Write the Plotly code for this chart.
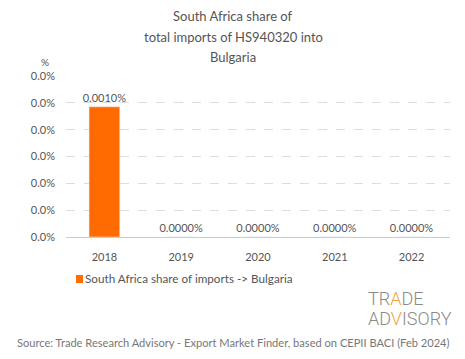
import plotly.graph_objects as go

years = ["2018", "2019", "2020", "2021", "2022"]
share_pct = [0.00097, 0.0, 0.0, 0.0, 0.0]
bar_labels = ["0.0010%", "0.0000%", "0.0000%", "0.0000%", "0.0000%"]
tick_vals = [0, 0.0002, 0.0004, 0.0006, 0.0008, 0.0010, 0.0012]
tick_text = ["0.0%"] * 7
series_name = "South Africa share of imports -> Bulgaria"
title_lines = ["South Africa share of", "total imports of HS940320 into", "Bulgaria"]
source_text = "Source: Trade Research Advisory - Export Market Finder, based on CEPII BACI (Feb 2024)"

FONT = "Lato"
GREY = "#555555"
BAR_COLOR = "#FF6B00"
LOGO_GREY = "#8a8a8a"
LOGO_ORANGE = "#F2A33A"

# plot area in page pixels: x 66..450, y 76..237 (figure sits at an 8px body offset)
def py(p):
    return (237 - p) / 161.0

def px(p):
    return (p - 66) / 384.0

fig = go.Figure()
fig.add_trace(go.Bar(
    x=years, y=share_pct, name=series_name, showlegend=False,
    marker_color=BAR_COLOR, text=bar_labels, textposition="outside",
    constraintext="none",
    textfont=dict(size=11, color=GREY, family=FONT), cliponaxis=False,
))
fig.update_layout(
    width=449, height=343,
    margin=dict(l=58, r=7, t=68, b=114, autoexpand=False),
    paper_bgcolor="white", plot_bgcolor="white",
    font=dict(family=FONT, size=11, color=GREY),
    bargap=0.6,
    xaxis=dict(showline=True, linecolor="#cccccc", ticks="", ticklabelstandoff=10,
               tickfont=dict(size=11, color=GREY)),
    yaxis=dict(range=[0, 0.0012], tickvals=tick_vals, ticktext=tick_text,
               showgrid=True, gridcolor="#dddddd", griddash="dash", zeroline=False,
               ticklabelstandoff=10, tickfont=dict(size=11, color=GREY)),
)
for line, yy in zip(title_lines, [16, 37, 57]):
    fig.add_annotation(text=line, xref="paper", yref="paper", x=px(233), y=py(yy),
                       xanchor="center", yanchor="middle", showarrow=False,
                       font=dict(size=13, color=GREY, family=FONT))
fig.add_annotation(text="%", xref="paper", yref="paper", x=px(45), y=py(62),
                   xanchor="center", yanchor="middle",
                   showarrow=False, font=dict(size=10, color=GREY, family=FONT))
# legend
fig.add_shape(type="rect", xref="paper", yref="paper",
              x0=px(76), x1=px(83), y0=py(283), y1=py(275),
              fillcolor=BAR_COLOR, line=dict(width=0))
fig.add_annotation(text=series_name.replace(">", "&gt;"), xref="paper", yref="paper",
                   x=px(83), y=py(278), xanchor="left", yanchor="middle", showarrow=False,
                   font=dict(size=11.7, color=GREY, family=FONT))
# logo
fig.add_annotation(text="TR<span style='color:%s'>A</span>DE" % LOGO_ORANGE,
                   xref="paper", yref="paper", x=px(366), y=py(298),
                   xanchor="left", yanchor="middle", showarrow=False,
                   font=dict(size=18, color=LOGO_GREY, family="Roboto", weight=300))
fig.add_annotation(text="AD<span style='color:%s'>V</span>ISORY" % LOGO_ORANGE,
                   xref="paper", yref="paper", x=px(366), y=py(318),
                   xanchor="left", yanchor="middle", showarrow=False,
                   font=dict(size=18, color=LOGO_GREY, family="Roboto", weight=300))
fig.add_annotation(text=source_text,
                   xref="paper", yref="paper", x=px(233), y=py(342), xanchor="center", yanchor="middle",
                   showarrow=False, font=dict(size=11.1, color="#777777", family=FONT))
fig.write_html("out.html")
